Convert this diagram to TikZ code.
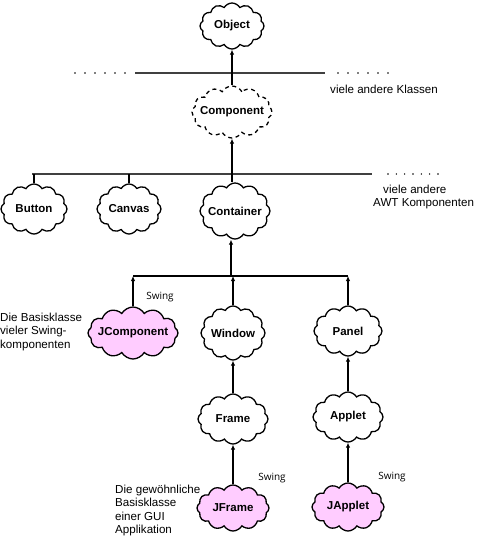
\documentclass[tikz,border=0pt]{standalone}
\usepackage{fontspec}
\setmainfont{Liberation Sans}
\newfontfamily\swingfont{Open Sans}
\usetikzlibrary{shapes.symbols,arrows.meta}
\definecolor{swingpink}{HTML}{FFCCFF}
\newcommand{\cl}[1]{\makebox[0pt][c]{#1}}
\begin{document}
\begin{tikzpicture}[x=1pt,y=-1pt,
  cls/.style={cloud, cloud puffs=12, cloud puff arc=120, cloud ignores aspect, draw, line width=1.3pt,
    inner sep=0pt, fill=white, font=\bfseries\fontsize{11.5}{13}\selectfont},
  swingcls/.style={cls, fill=swingpink},
  dashcls/.style={cls, dash pattern=on 4pt off 3.5pt},
  conn/.style={line width=1.7pt, -{Latex[length=5pt,width=4.5pt]}},
  link/.style={line width=1.7pt},
  bar/.style={line width=2.2pt, draw=black!75},
  note/.style={font=\fontsize{11.6}{13.2}\selectfont, align=left, inner sep=0pt},
  swing/.style={font=\swingfont\fontsize{10}{11}\selectfont, inner sep=0pt}]
\useasboundingbox (0,0) rectangle (477,541);

% classes
\node[cls, minimum width=64pt, minimum height=46pt] (object) at (232,26) {\cl{Object}};
\node[dashcls, minimum width=80pt, minimum height=52pt] (component) at (232,112) {\cl{Component}};
\node[cls, minimum width=66pt, minimum height=50pt] (button) at (34,209) {\cl{Button}};
\node[cls, minimum width=64pt, minimum height=50pt] (canvas) at (129,209) {\cl{Canvas}};
\node[cls, minimum width=70pt, minimum height=56pt] (container) at (235,211) {\cl{Container}};
\node[swingcls, minimum width=90pt, minimum height=52pt] (jcomponent) at (133,333) {\cl{JComponent}};
\node[cls, minimum width=64pt, minimum height=54pt] (window) at (233,333) {\cl{Window}};
\node[cls, minimum width=68pt, minimum height=50pt] (panel) at (348,331) {\cl{Panel}};
\node[cls, minimum width=70pt, minimum height=50pt] (frame) at (233,419) {\cl{Frame}};
\node[cls, minimum width=70pt, minimum height=50pt] (applet) at (348,417) {\cl{Applet}};
\node[swingcls, minimum width=72pt, minimum height=46pt] (jframe) at (233,508) {\cl{JFrame}};
\node[swingcls, minimum width=72pt, minimum height=48pt] (japplet) at (348,507) {\cl{JApplet}};

% junction coordinates
\coordinate (b1l) at (135,73);
\coordinate (b1r) at (325,73);
\coordinate (j2) at (232,174);
\coordinate (b2l) at (32,174);
\coordinate (b2r) at (372,174);
\coordinate (j3) at (231,276);

% bars
\draw[bar] (b1l) -- (b1r);
\draw[bar] (b2l) -- (b2r);
\draw[link] (jcomponent |- j3) -- (panel |- j3);

% connectors
\draw[conn] (component) -- (object);
\draw[conn] (j2) -- (component);
\draw[link] (container.north -| j2) -- (j2);
\draw[link] (button) -- (button |- j2);
\draw[link] (canvas) -- (canvas |- j2);
\draw[conn] (j3) -- (container.south -| j3);
\draw[conn] (jcomponent) -- (jcomponent |- j3);
\draw[conn] (window) -- (window |- j3);
\draw[conn] (panel) -- (panel |- j3);
\draw[conn] (frame) -- (window);
\draw[conn] (applet) -- (panel);
\draw[conn] (jframe) -- (frame);
\draw[conn] (japplet) -- (applet);

% dots
\foreach \i in {0,...,5} \fill ({75+\i*10},73) circle[radius=0.8pt];
\foreach \i in {0,...,5} \fill ({338+\i*10},73) circle[radius=0.8pt];
\foreach \i in {0,...,6} \fill ({388+\i*8.33},174) circle[radius=0.8pt];

% notes
\node[note, anchor=west] (n1) at (330,89) {viele andere Klassen};
\node[note, anchor=west] (n2) at (383,189) {viele andere};
\node[note, anchor=west] (n3) at (373,204) {AWT Komponenten};
\node[note, anchor=north west] (n4) at (0,313) {Die Basisklasse\\vieler Swing-\\komponenten};
\node[note, anchor=north west] (n5) at (115,485) {Die gewöhnliche\\Basisklasse\\einer GUI\\Applikation};
\node[swing] (s1) at (160,297) {Swing};
\node[swing] (s2) at (272,478) {Swing};
\node[swing] (s3) at (392,477) {Swing};
\end{tikzpicture}
\end{document}
